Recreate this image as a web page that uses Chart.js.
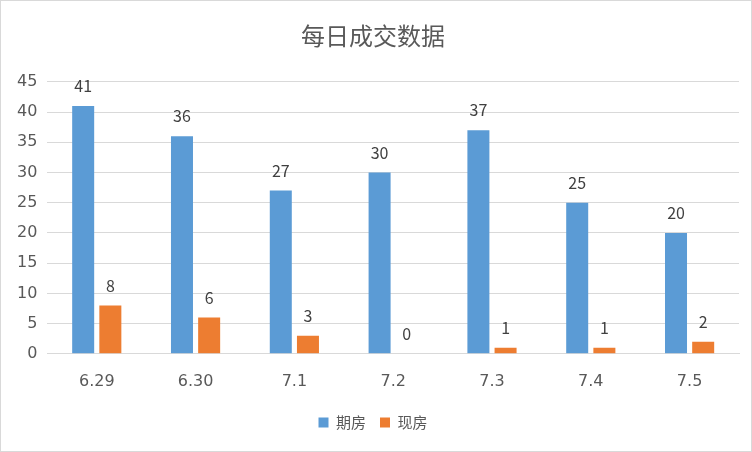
<!DOCTYPE html>
<html><head><meta charset="utf-8">
<script src="https://cdn.jsdelivr.net/npm/chart.js@4"></script>
<style>
html,body{margin:0;padding:0;background:#fff}
#wrap{width:750px;height:450px;border:1px solid #d9d9d9;position:relative}
</style></head><body>
<div id="wrap"><canvas id="c" width="750" height="450"></canvas></div>
<script>
const categories = ['6.29','6.30','7.1','7.2','7.3','7.4','7.5'];
const futures = [41,36,27,30,37,25,20];
const spot = [8,6,3,0,1,1,2];
const yTicks = [0,5,10,15,20,25,30,35,40,45];

const labelPlugin = {
  id: 'labels',
  afterDatasetsDraw(chart) {
    const ctx = chart.ctx;
    ctx.save();
    ctx.font = '16px "Noto Sans CJK SC", "DejaVu Sans", sans-serif';
    ctx.fillStyle = '#404040';
    ctx.textAlign = 'center';
    ctx.textBaseline = 'bottom';
    chart.data.datasets.forEach((ds, i) => {
      chart.getDatasetMeta(i).data.forEach((bar, j) => {
        ctx.fillText(ds.data[j], bar.x, bar.y - 12);
      });
    });
    ctx.restore();
  }
};

new Chart(document.getElementById('c'), {
  type: 'bar',
  data: {
    labels: categories,
    datasets: [
      { label: '期房', data: futures, backgroundColor: '#5b9bd5', categoryPercentage: 0.55, barPercentage: 0.81 },
      { label: '现房', data: spot, backgroundColor: '#ed7d31', categoryPercentage: 0.55, barPercentage: 0.81 }
    ]
  },
  options: {
    responsive: false,
    animation: false,
    layout: { padding: { left: 6, right: 12, top: 0, bottom: 11 } },
    plugins: {
      title: { display: true, text: '每日成交数据', color: '#595959',
        font: { size: 24, family: '"Noto Sans CJK SC", sans-serif', weight: 'normal' },
        padding: { top: 20, bottom: 32 } },
      legend: { position: 'bottom',
        labels: { boxWidth: 10, boxHeight: 10, color: '#595959', padding: 14,
          font: { size: 15, family: '"Noto Sans CJK SC", sans-serif' } } },
      tooltip: { enabled: false }
    },
    scales: {
      x: { grid: { display: false }, border: { color: '#d9d9d9' },
        ticks: { color: '#595959', font: { size: 16, family: '"DejaVu Sans", sans-serif' }, padding: 10 } },
      y: { min: 0, max: 45, afterBuildTicks: a => { a.ticks = yTicks.map(v => ({ value: v })); },
        grid: { color: '#d9d9d9', drawTicks: false }, border: { display: false },
        ticks: { color: '#595959', font: { size: 16, family: '"DejaVu Sans", sans-serif' }, padding: 10 } }
    }
  },
  plugins: [labelPlugin]
});
</script>
</body></html>
